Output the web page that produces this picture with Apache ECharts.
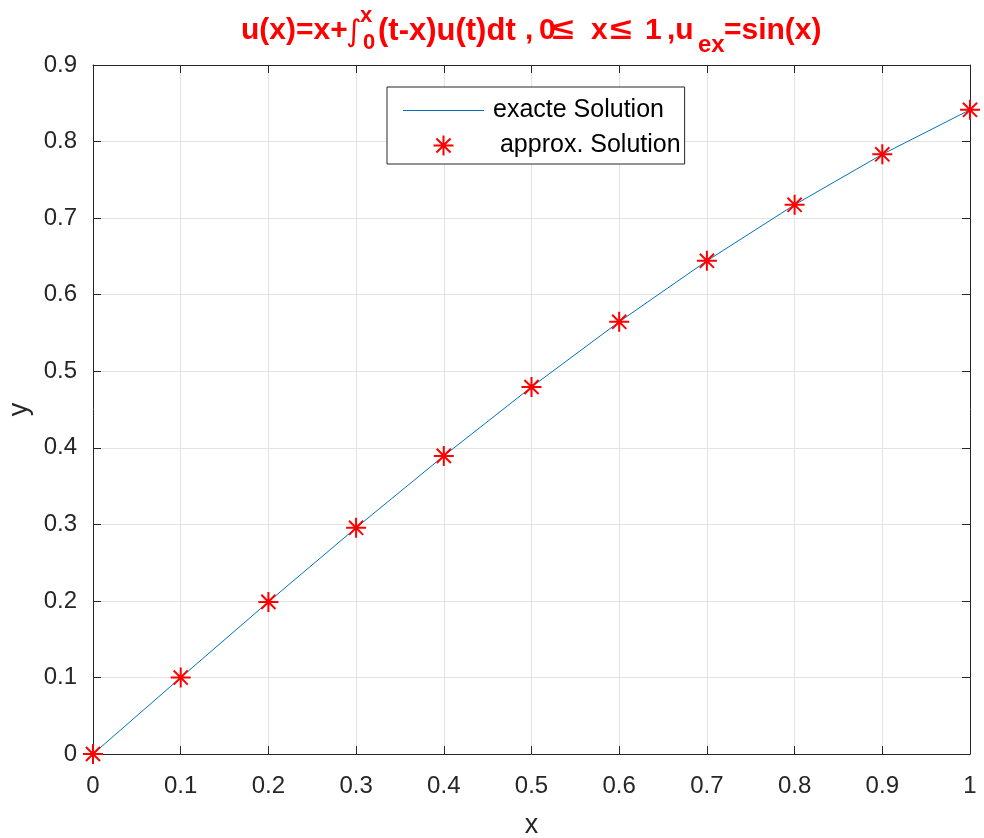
<!DOCTYPE html>
<html><head><meta charset="utf-8">
<script src="https://cdn.jsdelivr.net/npm/echarts@6/dist/echarts.min.js"></script>
<style>html,body{margin:0;padding:0;background:#fff}#c{width:984px;height:838px}</style>
</head><body><div id="c"></div>
<script>
var xValues = [0, 0.1, 0.2, 0.3, 0.4, 0.5, 0.6, 0.7, 0.8, 0.9, 1.0];
var exactValues = [0, 0.0998, 0.1987, 0.2955, 0.3894, 0.4794, 0.5646, 0.6442, 0.7174, 0.7833, 0.8415];
var approxValues = [0, 0.0998, 0.1987, 0.2955, 0.3894, 0.4794, 0.5646, 0.6442, 0.7174, 0.7833, 0.8415];
var seriesNames = ['exacte Solution', ' approx. Solution'];

var chart = echarts.init(document.getElementById('c'), null, {renderer: 'canvas'});
var FONT = 'Liberation Sans, Arial, sans-serif';
var axisCol = '#262626';
var star = 'path://M0,-10L0,10M-10,0L10,0M-7.07,-7.07L7.07,7.07M-7.07,7.07L7.07,-7.07';
function fmt(v){ return String(+v.toFixed(1)); }
var tcol = '#ff0000';
function t(txt, x, y, size, bold, family, sx){
  var el = {type:'text', x:x, y:y, style:{text:txt, fill:tcol, font:(bold?'bold ':'')+size+'px '+(family||FONT), verticalAlign:'middle', align:'left'}};
  if (sx) { el.scaleX = sx; }
  return el;
}
var option = {
  backgroundColor: '#fff',
  animation: false,
  grid: {left: 93, right: 14, top: 65, bottom: 84, containLabel: false, outerBoundsMode: 'none'},
  xAxis: [{
    type: 'value', min: 0, max: 1, interval: 0.1,
    name: 'x', nameLocation: 'middle', nameGap: 58,
    nameTextStyle: {fontFamily: FONT, fontSize: 27, color: axisCol},
    axisLine: {show: true, lineStyle: {color: axisCol, width: 1}},
    axisTick: {show: true, inside: true, length: 8, lineStyle: {color: axisCol}},
    axisLabel: {fontFamily: FONT, fontSize: 24, color: axisCol, margin: 20, formatter: fmt},
    splitLine: {show: true, lineStyle: {color: '#e3e3e3', width: 1}}
  }, {
    type: 'value', position: 'top', min: 0, max: 1, interval: 0.1,
    axisLine: {show: true, onZero: false, lineStyle: {color: axisCol, width: 1}},
    axisTick: {show: true, inside: true, length: 8, lineStyle: {color: axisCol}},
    axisLabel: {show: false}, splitLine: {show: false}
  }],
  yAxis: [{
    type: 'value', min: 0, max: 0.9, interval: 0.1,
    name: 'y', nameLocation: 'middle', nameGap: 57, nameRotate: 90,
    nameTextStyle: {fontFamily: FONT, fontSize: 27, color: axisCol},
    axisLine: {show: true, lineStyle: {color: axisCol, width: 1}},
    axisTick: {show: true, inside: true, length: 8, lineStyle: {color: axisCol}},
    axisLabel: {fontFamily: FONT, fontSize: 24, color: axisCol, margin: 16, formatter: fmt},
    splitLine: {show: true, lineStyle: {color: '#e3e3e3', width: 1}}
  }, {
    type: 'value', position: 'right', min: 0, max: 0.9, interval: 0.1,
    axisLine: {show: true, onZero: false, lineStyle: {color: axisCol, width: 1}},
    axisTick: {show: true, inside: true, length: 8, lineStyle: {color: axisCol}},
    axisLabel: {show: false}, splitLine: {show: false}
  }],
  legend: {
    orient: 'vertical', left: 387, top: 87,
    backgroundColor: '#fff', borderColor: '#262626', borderWidth: 1, borderRadius: 0,
    padding: [11, 4, 6, 16], itemGap: 10, itemWidth: 81, itemHeight: 20,
    textStyle: {fontFamily: FONT, fontSize: 25, color: '#000', padding: [0, 0, 0, 4]},
    data: [
      {name: seriesNames[0], icon: 'path://M0,0L100,0L100,1L0,1Z', itemStyle: {color: '#0072BD'}},
      {name: seriesNames[1]}
    ]
  },
  graphic: [
    t('u(x)=x+', 241, 31, 30, true),
    t('\u222B', 346, 33, 30, false, 'DejaVu Sans, sans-serif'),
    t('x', 360, 16, 22, true),
    t('0', 363, 43, 22, true),
    t('(t-x)u(t)dt', 378, 31, 31, true),
    t(',', 525, 31, 30, true),
    t('0', 539, 31, 30, true),
    t('\u2264', 552, 31, 30, true, null, 1.3),
    t('x', 591, 31, 30, true),
    t('\u2264', 610, 31, 30, true, null, 1.3),
    t('1', 645, 31, 30, true),
    t(',u', 667, 31, 30, true),
    t('ex', 698, 45, 24, true),
    t('=sin(x)', 724, 31, 30, true)
  ],
  series: [{
    name: seriesNames[0], type: 'line', xAxisIndex: 0, yAxisIndex: 0,
    data: xValues.map(function(x, i){ return [x, exactValues[i]]; }),
    showSymbol: false, symbol: 'none',
    lineStyle: {color: '#0072BD', width: 1}, itemStyle: {color: '#0072BD'}, z: 2
  }, {
    name: seriesNames[1], type: 'scatter', xAxisIndex: 0, yAxisIndex: 0,
    data: xValues.map(function(x, i){ return [x, approxValues[i]]; }),
    symbol: star, symbolSize: 20,
    itemStyle: {color: 'rgba(0,0,0,0)', borderColor: '#ff0000', borderWidth: 2, opacity: 1}, z: 3
  }]
};
chart.setOption(option);
</script></body></html>
